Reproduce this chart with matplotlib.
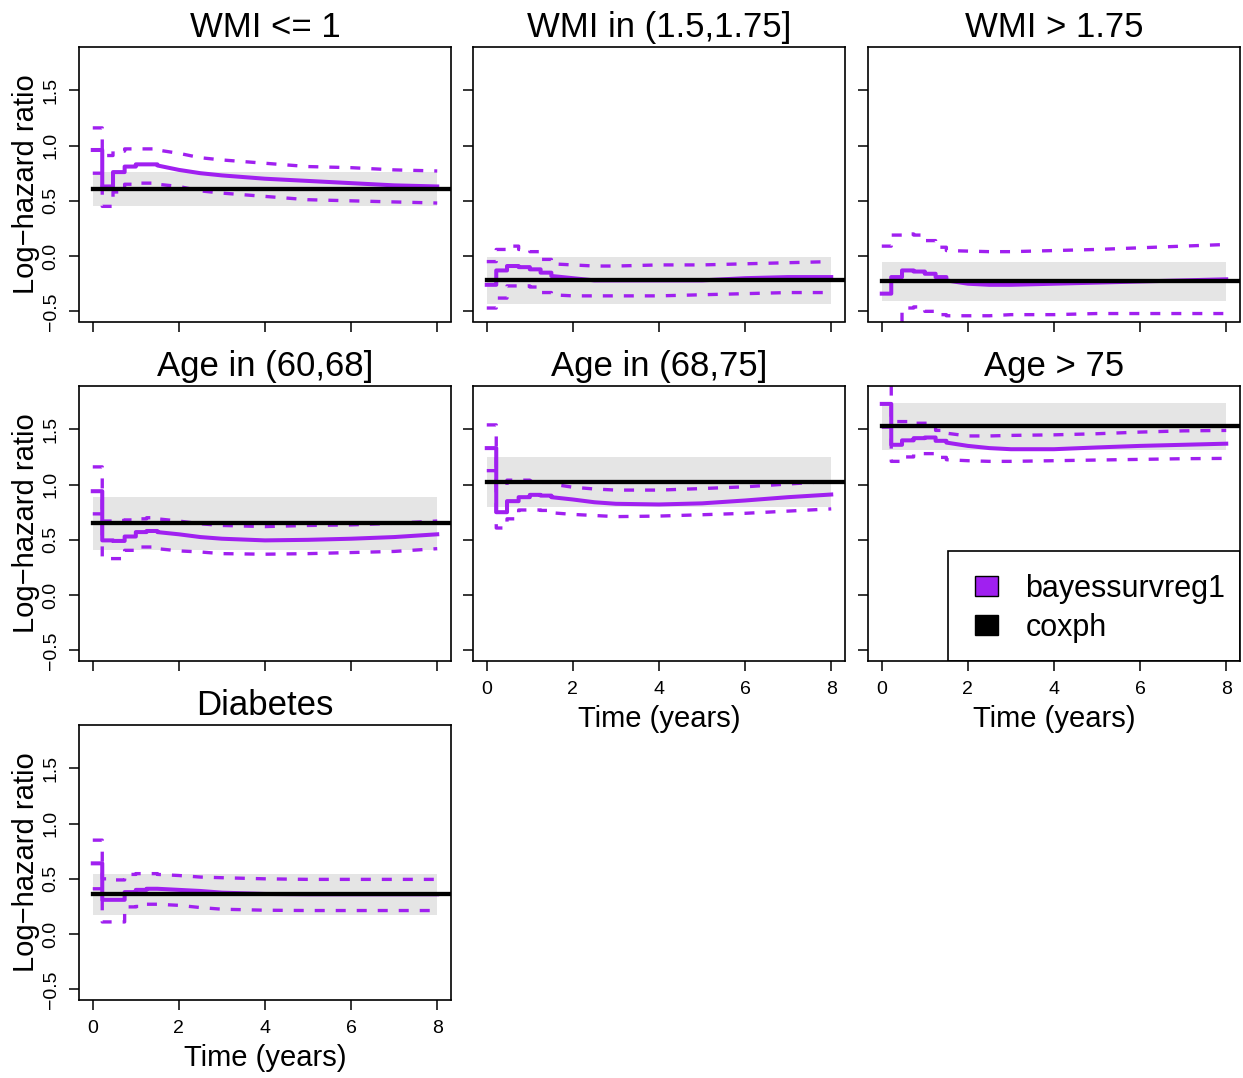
import numpy as np
import matplotlib
matplotlib.use('Agg')
import matplotlib.pyplot as plt
from matplotlib.patches import Patch, Rectangle

plt.rcParams['font.family'] = ['Liberation Sans', 'DejaVu Sans']

# step times shared by all panels (years)
times = [0, 0.22, 0.47, 0.74, 1.0, 1.25, 1.5, 2, 2.5, 3, 4, 5, 6, 7, 8]

titles = ['WMI <= 1', 'WMI in (1.5,1.75]', 'WMI > 1.75',
          'Age in (60,68]', 'Age in (68,75]', 'Age > 75', 'Diabetes']

# coxph estimate and 95% interval per covariate
cox_est = [0.61, -0.22, -0.23, 0.65, 1.02, 1.53, 0.36]
cox_lo = [0.45, -0.43, -0.41, 0.41, 0.80, 1.31, 0.17]
cox_hi = [0.76, -0.01, -0.05, 0.89, 1.25, 1.74, 0.54]

# bayessurvreg1 time-varying log-hazard ratios
est_wmi1 = [0.96, 0.63, 0.76, 0.81, 0.83, 0.83, 0.82, 0.78, 0.75, 0.73, 0.70, 0.68, 0.66, 0.64, 0.63]
lo_wmi1 = [0.75, 0.45, 0.58, 0.65, 0.66, 0.66, 0.65, 0.63, 0.59, 0.57, 0.54, 0.51, 0.50, 0.49, 0.48]
hi_wmi1 = [1.16, 0.91, 0.95, 0.97, 0.97, 0.97, 0.96, 0.93, 0.89, 0.87, 0.84, 0.81, 0.80, 0.78, 0.77]

est_wmi2 = [-0.26, -0.13, -0.09, -0.10, -0.12, -0.15, -0.18, -0.20, -0.22, -0.22, -0.22, -0.22, -0.20, -0.19, -0.19]
lo_wmi2 = [-0.47, -0.38, -0.27, -0.27, -0.28, -0.33, -0.35, -0.36, -0.36, -0.36, -0.36, -0.35, -0.34, -0.33, -0.33]
hi_wmi2 = [-0.05, 0.06, 0.09, 0.06, 0.04, -0.03, -0.07, -0.08, -0.09, -0.09, -0.08, -0.08, -0.07, -0.06, -0.05]

est_wmi3 = [-0.34, -0.19, -0.13, -0.14, -0.16, -0.19, -0.22, -0.25, -0.26, -0.26, -0.25, -0.24, -0.23, -0.22, -0.21]
lo_wmi3 = [-0.80, -0.60, -0.47, -0.46, -0.50, -0.53, -0.54, -0.54, -0.54, -0.53, -0.53, -0.52, -0.52, -0.52, -0.52]
hi_wmi3 = [0.09, 0.19, 0.20, 0.19, 0.14, 0.08, 0.05, 0.045, 0.04, 0.04, 0.05, 0.06, 0.075, 0.09, 0.105]

est_age1 = [0.94, 0.495, 0.49, 0.53, 0.57, 0.58, 0.57, 0.55, 0.525, 0.51, 0.495, 0.50, 0.51, 0.525, 0.55]
lo_age1 = [0.735, 0.33, 0.33, 0.405, 0.435, 0.435, 0.42, 0.40, 0.39, 0.375, 0.37, 0.375, 0.385, 0.395, 0.42]
hi_age1 = [1.16, 0.67, 0.675, 0.68, 0.69, 0.70, 0.69, 0.67, 0.645, 0.63, 0.62, 0.63, 0.635, 0.65, 0.67]

est_age2 = [1.33, 0.75, 0.85, 0.886, 0.907, 0.90, 0.886, 0.865, 0.84, 0.826, 0.82, 0.83, 0.856, 0.886, 0.91]
lo_age2 = [1.126, 0.607, 0.69, 0.77, 0.77, 0.766, 0.745, 0.73, 0.72, 0.71, 0.715, 0.727, 0.74, 0.76, 0.78]
hi_age2 = [1.54, 0.98, 1.04, 1.04, 1.03, 1.02, 1.005, 0.976, 0.96, 0.95, 0.95, 0.964, 0.98, 1.005, 1.03]

est_age3 = [1.73, 1.36, 1.40, 1.42, 1.426, 1.396, 1.38, 1.35, 1.33, 1.32, 1.32, 1.336, 1.35, 1.36, 1.37]
lo_age3 = [1.52, 1.21, 1.25, 1.28, 1.28, 1.246, 1.225, 1.216, 1.21, 1.21, 1.216, 1.222, 1.228, 1.234, 1.237]
hi_age3 = [2.0, 1.57, 1.57, 1.555, 1.555, 1.49, 1.465, 1.44, 1.44, 1.445, 1.45, 1.46, 1.475, 1.486, 1.49]

est_diab = [0.64, 0.31, 0.31, 0.38, 0.40, 0.41, 0.41, 0.40, 0.39, 0.375, 0.363, 0.36, 0.36, 0.36, 0.36]
lo_diab = [0.41, 0.11, 0.11, 0.246, 0.25, 0.27, 0.27, 0.26, 0.24, 0.225, 0.216, 0.213, 0.213, 0.213, 0.213]
hi_diab = [0.85, 0.50, 0.49, 0.54, 0.547, 0.547, 0.54, 0.53, 0.516, 0.51, 0.50, 0.495, 0.495, 0.495, 0.495]

bayes_est = [est_wmi1, est_wmi2, est_wmi3, est_age1, est_age2, est_age3, est_diab]
bayes_lo = [lo_wmi1, lo_wmi2, lo_wmi3, lo_age1, lo_age2, lo_age3, lo_diab]
bayes_hi = [hi_wmi1, hi_wmi2, hi_wmi3, hi_age1, hi_age2, hi_age3, hi_diab]


def step_then_smooth(t, v, t_smooth=1.5):
    """Steps (post) up to t_smooth, then the many tiny steps drawn as a line."""
    k = t.index(t_smooth)
    xs, ys = [], []
    for i in range(k):
        xs += [t[i], t[i + 1]]
        ys += [v[i], v[i]]
    xs += t[k:]
    ys += v[k:]
    return xs, ys


purple = '#A020F0'
W, H = 1243, 1078
col_left = [79, 473, 868]
row_top = [47, 386, 725]
aw, ah = 372, 274.5

fig = plt.figure(figsize=(W / 100, H / 100), dpi=100)

for i in range(7):
    r, c = divmod(i, 3)
    ax = fig.add_axes([col_left[c] / W, 1 - (row_top[r] + ah) / H, aw / W, ah / H])

    ax.fill_between([0, 8], cox_lo[i], cox_hi[i], color='#E5E5E5', lw=0, zorder=1)
    for band in (bayes_lo[i], bayes_hi[i]):
        xs, ys = step_then_smooth(times, band)
        ax.plot(xs, ys, color=purple, lw=2.4, dashes=(3.0, 3.3), zorder=2)
    xs, ys = step_then_smooth(times, bayes_est[i])
    ax.plot(xs, ys, color=purple, lw=2.9, zorder=3)
    ax.plot([0, 9], [cox_est[i]] * 2, color='black', lw=3.1, zorder=4)

    ax.set_xlim(-0.32, 8.32)
    ax.set_ylim(-0.592, 1.892)
    ax.set_xticks([0, 2, 4, 6, 8])
    ax.set_yticks([-0.5, 0.0, 0.5, 1.0, 1.5])
    ax.tick_params(direction='out', length=7, width=1.1, labelsize=14,
                   color='black')
    ax.tick_params(axis='y', pad=7)
    for sp in ax.spines.values():
        sp.set_linewidth(1.2)
    ax.set_title(titles[i], fontsize=25, pad=7)

    if c == 0:
        ax.set_yticklabels(['\u22120.5', '0.0', '0.5', '1.0', '1.5'],
                           rotation=90, va='center')
        ax.set_ylabel('Log\u2212hazard ratio', fontsize=21, labelpad=2)
    else:
        ax.set_yticklabels([])
    if i >= 4:
        ax.set_xlabel('Time (years)', fontsize=21, labelpad=5)
        ax.tick_params(axis='x', pad=8)
    else:
        ax.set_xticklabels([])

    if i == 5:
        ax.add_patch(Rectangle((0.215, 0), 0.785, 0.40, transform=ax.transAxes,
                               fill=False, lw=1.2, ec='black', zorder=5))
        handles = [Patch(fc=purple, ec='black', lw=1),
                   Patch(fc='black', ec='black', lw=1)]
        ax.legend(handles, ['bayessurvreg1', 'coxph'], loc='center left',
                  bbox_to_anchor=(0.2876, 0.19), frameon=False, fontsize=22,
                  handlelength=0.75, handleheight=0.62, handletextpad=0.9,
                  labelspacing=0.28, borderpad=0, borderaxespad=0)

fig.savefig('out.png', dpi=100)
